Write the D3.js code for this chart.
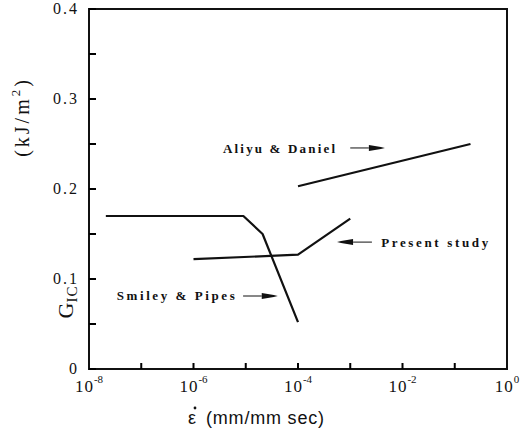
<!DOCTYPE html>
<html><head><meta charset="utf-8">
<script src="https://cdn.jsdelivr.net/npm/d3@7"></script>
<style>body{margin:0;background:#fff}</style>
</head><body>
<svg id="c" width="524" height="436"></svg>
<script>
// Data (strain rate in mm/mm sec, G_IC in kJ/m^2)
const smiley  = [[2.1e-8,0.170],[9e-6,0.170],[2.1e-5,0.150],[1e-4,0.052]];
const present = [[1e-6,0.122],[1e-4,0.127],[1e-3,0.167]];
const aliyu   = [[1e-4,0.203],[0.2,0.250]];
const yTicks = [0,0.1,0.2,0.3,0.4];
const yMinor = [0.05,0.15,0.25,0.35];
const xMajorExp = [-8,-6,-4,-2,0];
const xAllExp = [-7,-6,-5,-4,-3,-2,-1];
// annotations: [label, textX, textY, arrowFromX, arrowToX, arrowY, headAtEnd, width]
const notes = [
  ["Aliyu & Daniel", 3.67e-6, 0.240, 1e-3, 4.6e-3, 0.2456, true, 112],
  ["Present study",  3.9e-3, 0.1356, 5.6e-4, 2.6e-3, 0.141, false, 107],
  ["Smiley & Pipes", 3.4e-8, 0.0767, 8.9e-6, 4.1e-5, 0.0811, true, 118]
];

const svg = d3.select("#c");
const x = d3.scaleLog().domain([1e-8,1]).range([89,507]);
const y = d3.scaleLinear().domain([0,0.4]).range([369,9]);

// frame
svg.append("rect").attr("x",x(1e-8)).attr("y",y(0.4))
  .attr("width",x(1)-x(1e-8)).attr("height",y(0)-y(0.4))
  .attr("fill","none").attr("stroke","#111").attr("stroke-width",2);

// ticks (inward)
const tk = d3.path();
yTicks.concat(yMinor).forEach(v=>{ tk.moveTo(x(1e-8), y(v)); tk.lineTo(x(1e-8)+7, y(v)); });
xAllExp.forEach(e=>{ const px=x(Math.pow(10,e)); tk.moveTo(px, y(0)); tk.lineTo(px, y(0)-6); });
svg.append("path").attr("d",tk.toString()).attr("fill","none")
  .attr("stroke","#000").attr("stroke-width",2);

// left labels
svg.append("g").selectAll("text").data(yTicks).join("text")
  .attr("x",x(1e-8)-10).attr("y",d=>y(d)+5)
  .attr("text-anchor","end")
  .style("font-family","Liberation Serif").style("font-size","16px").style("letter-spacing","2px")
  .attr("fill","#111").text(d=>d===0?"0":d3.format(".1f")(d));

// bottom labels
const xl = svg.append("g").selectAll("text").data(xMajorExp).join("text")
  .attr("x",d=>x(Math.pow(10,d))).attr("y",y(0)+23)
  .attr("text-anchor","middle")
  .style("font-family","Liberation Serif").style("font-size","17px").attr("fill","#111");
xl.append("tspan").text("10").attr("letter-spacing","1px");
xl.append("tspan").attr("dy",-9).style("font-size","11px").text(d=>d===0?"0":String(d));

// lines
const line = d3.line().x(d=>x(d[0])).y(d=>y(d[1]));
[smiley,present,aliyu].forEach(s=>{
  svg.append("path").attr("d",line(s)).attr("fill","none")
    .attr("stroke","#111").attr("stroke-width",2.2).attr("stroke-linejoin","round");
});

// annotations
notes.forEach(n=>{
  svg.append("text").attr("x",x(n[1])).attr("y",y(n[2]))
    .attr("textLength",n[7]).attr("lengthAdjust","spacing")
    .style("font-family","Liberation Serif").style("font-weight","bold").style("font-size","13px")
    .attr("fill","#111").text(n[0]);
  const x0=x(n[3]), x1=x(n[4]), yy=y(n[5]);
  const headLen=16;
  if(n[6]){
    svg.append("line").attr("x1",x0).attr("x2",x1-headLen).attr("y1",yy).attr("y2",yy)
      .attr("stroke","#111").attr("stroke-width",1);
    svg.append("path").attr("d",`M${x1-headLen},${yy-3}L${x1-4},${yy-1}L${x1},${yy}L${x1-4},${yy+1}L${x1-headLen},${yy+3}Z`).attr("fill","#111");
  } else {
    svg.append("line").attr("x1",x0+headLen).attr("x2",x1).attr("y1",yy).attr("y2",yy)
      .attr("stroke","#111").attr("stroke-width",1);
    svg.append("path").attr("d",`M${x0+headLen},${yy-3}L${x0+4},${yy-1}L${x0},${yy}L${x0+4},${yy+1}L${x0+headLen},${yy+3}Z`).attr("fill","#111");
  }
});

// axis titles
const xt = svg.append("text").attr("x",188).attr("y",424)
  .style("font-family","Liberation Sans").style("font-size","18px").attr("fill","#111");
xt.append("tspan").text("\u03B5");
xt.append("tspan").attr("dx",10).style("letter-spacing","0.8px").text("(mm/mm sec)");
// dot over epsilon
svg.append("circle").attr("cx",195).attr("cy",408).attr("r",1.4).attr("fill","#111");

const gt = svg.append("text").attr("transform","translate(73,302) rotate(-90)")
  .attr("text-anchor","middle").style("font-family","Liberation Serif").attr("fill","#111");
gt.append("tspan").style("font-size","22px").text("G");
gt.append("tspan").style("font-size","15px").attr("dy",4).style("letter-spacing","1px").text("IC");

const ut = svg.append("text").attr("transform","translate(29,117) rotate(-90)")
  .attr("text-anchor","middle").style("font-family","Liberation Serif").style("font-size","20px")
  .style("letter-spacing","3px").attr("fill","#111");
ut.append("tspan").text("(kJ/m");
ut.append("tspan").attr("dy",-9).style("font-size","13px").text("2");
ut.append("tspan").attr("dy",9).text(")");
</script>
</body></html>
